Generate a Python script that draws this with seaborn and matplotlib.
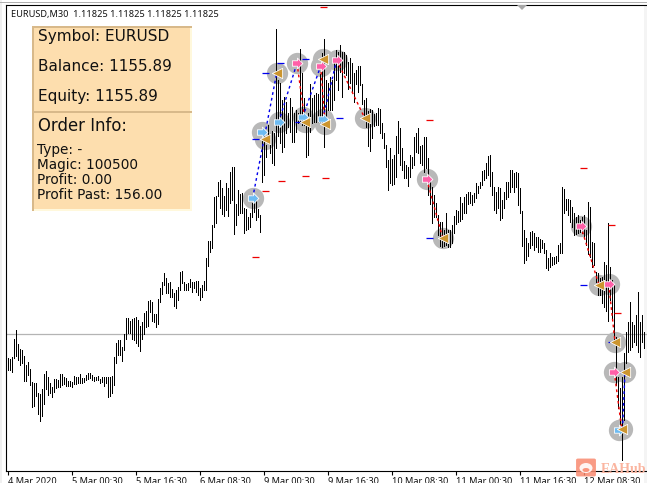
import numpy as np
import pandas as pd
import matplotlib
matplotlib.use('Agg')
import matplotlib.pyplot as plt
from matplotlib.patches import Rectangle, FancyBboxPatch, Ellipse, Polygon
from matplotlib.path import Path
import seaborn as sns

W, H = 647, 483

# bar highs / lows (height above the window bottom)
highs = [
    125, 124, 126, 144, 153, 139, 134, 133, 127, 118, 121, 114, 101, 100, 100, 90, 89, 94, 109, 112,
    106, 100, 96, 104, 104, 103, 109, 109, 106, 105, 102, 102, 101, 107, 106, 106, 109, 105, 105, 108,
    110, 110, 108, 106, 106, 107, 104, 106, 106, 106, 106, 106, 107, 126, 140, 143, 143, 136, 149, 165,
    165, 162, 164, 165, 166, 163, 157, 161, 170, 172, 182, 183, 181, 169, 169, 184, 195, 201, 210, 205,
    200, 201, 194, 190, 193, 196, 211, 212, 201, 199, 200, 204, 201, 201, 202, 202, 195, 198, 202, 225,
    242, 242, 258, 286, 287, 301, 303, 295, 287, 300, 295, 311, 316, 316, 279, 293, 289, 290, 275, 274,
    266, 270, 280, 282, 283, 274, 268, 355, 348, 338, 358, 348, 352, 350, 454, 403, 400, 383, 386, 381,
    370, 385, 376, 370, 373, 370, 434, 410, 385, 361, 370, 399, 385, 388, 390, 389, 409, 430, 444, 403,
    400, 406, 403, 423, 433, 431, 438, 431, 431, 428, 421, 425, 420, 410, 413, 417, 417, 399, 383, 385,
    372, 374, 373, 369, 370, 375, 374, 360, 350, 338, 323, 335, 324, 328, 347, 362, 355, 335, 322, 318,
    316, 328, 326, 346, 350, 355, 337, 338, 346, 346, 325, 305, 296, 288, 280, 268, 261, 261, 253, 270,
    253, 253, 258, 267, 273, 272, 286, 280, 286, 289, 291, 291, 288, 290, 300, 297, 301, 312, 313, 320,
    327, 328, 311, 296, 291, 296, 295, 283, 291, 301, 301, 313, 313, 310, 311, 310, 295, 272, 253, 245,
    240, 251, 252, 250, 246, 246, 244, 243, 240, 233, 225, 230, 226, 226, 227, 238, 240, 296, 294, 284,
    284, 283, 276, 270, 266, 268, 263, 266, 268, 253, 281, 276, 241, 240, 211, 210, 205, 206, 221, 218,
    260, 216, 203, 198, 146, 106, 95, 106, 130, 151, 161, 181, 161, 158, 168, 191, 161, 168, 151,
]
lows = [
    113, 113, 111, 125, 127, 123, 118, 120, 102, 102, 108, 98, 76, 77, 87, 69, 62, 67, 79, 94,
    88, 90, 86, 91, 95, 96, 96, 98, 99, 97, 97, 97, 96, 99, 99, 100, 100, 100, 101, 103,
    104, 105, 103, 102, 103, 103, 100, 101, 97, 100, 86, 87, 90, 98, 120, 128, 128, 122, 133, 144,
    150, 150, 144, 143, 140, 137, 132, 144, 149, 156, 157, 171, 162, 161, 156, 159, 181, 189, 198, 190,
    190, 186, 186, 177, 175, 183, 193, 200, 193, 193, 193, 196, 191, 195, 191, 188, 183, 186, 193, 193,
    217, 231, 235, 256, 260, 287, 275, 269, 267, 273, 267, 280, 283, 249, 258, 268, 270, 270, 250, 253,
    254, 256, 266, 271, 263, 266, 251, 301, 308, 326, 341, 330, 320, 318, 335, 347, 340, 331, 336, 350,
    356, 351, 341, 341, 351, 360, 361, 358, 358, 326, 328, 351, 360, 361, 361, 361, 361, 358, 336, 366,
    373, 373, 373, 383, 403, 393, 411, 386, 410, 408, 394, 400, 391, 381, 399, 391, 398, 379, 363, 356,
    337, 332, 345, 357, 358, 358, 350, 345, 335, 316, 293, 300, 298, 299, 306, 330, 318, 313, 305, 305,
    297, 306, 315, 318, 331, 330, 320, 318, 311, 315, 288, 279, 260, 266, 266, 248, 237, 236, 237, 238,
    236, 236, 240, 250, 259, 261, 262, 264, 270, 270, 279, 280, 278, 281, 285, 290, 295, 298, 303, 305,
    308, 297, 288, 273, 270, 275, 263, 265, 275, 284, 286, 291, 296, 291, 296, 278, 270, 237, 220, 223,
    227, 235, 238, 233, 236, 231, 231, 235, 230, 215, 213, 216, 218, 219, 220, 222, 230, 230, 270, 273,
    268, 261, 256, 248, 249, 250, 251, 250, 245, 238, 229, 226, 216, 218, 201, 188, 188, 180, 176, 172,
    162, 183, 163, 143, 98, 75, 53, 23, 63, 120, 131, 133, 136, 141, 138, 131, 126, 141, 135,
]

tick_labels = ['4 Mar 2020', '5 Mar 00:30', '5 Mar 16:30', '6 Mar 08:30', '9 Mar 00:30',
               '9 Mar 16:30', '10 Mar 08:30', '11 Mar 00:30', '11 Mar 16:30', '12 Mar 08:30']
tick_bars = [0, 32, 64, 96, 128, 160, 192, 224, 256, 288]
bid_level = 149

# trade marks: bar position and level
open_bars = [122.6, 127.4, 135.6, 147.6, 157.6, 305.9]
open_levels = [285, 351, 361, 366, 364, 53]
exit_bars = [134.6, 128.75, 148.75, 158.75, 157.9, 178.6, 217.6, 295.75, 303.75, 308.75, 307.1]
exit_levels = [410, 344, 361, 359, 424, 365, 245, 198, 141, 111, 54]
close_bars = [144.75, 156.6, 164.6, 209.6, 286.6, 300.6, 303.4]
close_levels = [420, 417, 423, 304, 257, 199, 111]

# dashed trade lines (from, to)
blue_from = [(122.6, 285), (135.6, 361), (147.6, 366), (157.6, 364), (307.5, 54)]
blue_to = [(134.6, 410), (144.75, 420), (156.6, 417), (164.6, 423), (308.75, 111)]
red_from = [(144.75, 420), (156.6, 417), (164.6, 423), (209.6, 304), (286.6, 257), (300.6, 199), (303.4, 111)]
red_to = [(148.75, 361), (158.75, 359), (178.6, 365), (217.6, 245), (295.75, 198), (303.75, 141), (307.1, 54)]

# short stop / target levels
red_stop_bars = [156.25, 127.25, 135.25, 147.25, 157.25, 209.25, 122.25, 286.25, 300.25, 303.25]
red_stop_levels = [476, 292, 302, 307, 305, 363, 226, 315, 258, 170]
blue_stop_bars = [127.25, 134.75, 147.25, 156.75, 122.25, 143.75, 164.25, 209.25, 286.25, 300.25, 305.25]
blue_stop_levels = [410, 420, 424, 422, 344, 361, 365, 245, 198, 141, 111]

panel_lines = ['Symbol: EURUSD', 'Balance: 1155.89', 'Equity: 1155.89']
order_lines = ['Type: -', 'Magic: 100500', 'Profit: 0.00', 'Profit Past: 156.00']

sns.set_style('white')
plt.rcParams['font.family'] = ['DejaVu Sans']

fig = plt.figure(figsize=(W / 100, H / 100), dpi=100)
ax = fig.add_axes([6 / W, (H - 471) / H, (W - 6) / W, (471 - 5) / H])


def fx(px):
    return px / W


def fy(py):
    return 1 - py / H


def frect(x0, y0, x1, y1, color, z=5):
    fig.add_artist(Rectangle((fx(x0), fy(y1)), (x1 - x0) / W, (y1 - y0) / H, transform=fig.transFigure,
                             facecolor=color, edgecolor='none', zorder=z))


ax.set_xlim(-0.75, 319.75)
ax.set_ylim(12, 478)

# chart furniture outside the axes
frect(0, 0, 2, H, '#F0F0F0', 0)
frect(644, 5, W, H, '#F4F4F4', 0)
frect(0, 2, W, 3, '#B0B0B0', 0)
ax.patch.set_alpha(0)
ax.axhline(bid_level, color='#B4B4B4', lw=0.9, zorder=1)

# gray halos under the bars
halo_df = pd.DataFrame({'bar': open_bars + exit_bars + close_bars,
                        'level': open_levels + exit_levels + close_levels})
sns.scatterplot(data=halo_df, x='bar', y='level', s=235, color='#B8B8B8', linewidth=0, ax=ax,
                zorder=2, legend=False)

bars_df = pd.DataFrame({'bar': np.arange(len(highs)), 'high': highs, 'low': lows})
bars_long = bars_df.melt(id_vars='bar', value_vars=['low', 'high'], value_name='level')
sns.lineplot(data=bars_long, x='bar', y='level', units='bar', estimator=None, color='black',
             linewidth=0.72, antialiased=False, solid_capstyle='butt', ax=ax, zorder=3, legend=False)


def trade_lines(starts, ends, color):
    rows = []
    for n, (a, b) in enumerate(zip(starts, ends)):
        rows.append({'trade': n, 'bar': a[0], 'level': a[1]})
        rows.append({'trade': n, 'bar': b[0], 'level': b[1]})
    sns.lineplot(data=pd.DataFrame(rows), x='bar', y='level', units='trade', estimator=None, sort=False,
                 color=color, linewidth=1.0, linestyle=(0, (2, 2.2)), ax=ax, zorder=4, legend=False)


trade_lines(blue_from, blue_to, '#0000EE')
trade_lines(red_from, red_to, '#EE0000')

ax.hlines(red_stop_levels, red_stop_bars, np.array(red_stop_bars) + 3.4, color='#EE0000', lw=0.9, zorder=4)
ax.hlines(blue_stop_levels, blue_stop_bars, np.array(blue_stop_bars) + 3.4, color='#0000EE', lw=0.9, zorder=4)

arrow = Path([(-0.9, -0.48), (0.0, -0.48), (0.0, -0.95), (0.95, 0), (0.0, 0.95), (0.0, 0.48), (-0.9, 0.48), (-0.9, -0.48)],
             closed=True)
sns.scatterplot(x=open_bars, y=open_levels, marker=arrow, s=60, color='#6DBBF2', edgecolor='white', linewidth=0.6,
                ax=ax, zorder=6, legend=False)
sns.scatterplot(x=close_bars, y=close_levels, marker=arrow, s=60, color='#FF5FA8', edgecolor='white', linewidth=0.6,
                ax=ax, zorder=6, legend=False)
sns.scatterplot(x=exit_bars, y=exit_levels, marker='<', s=55, color='#CC952F', edgecolor='white', linewidth=0.6,
                ax=ax, zorder=6, legend=False)

# axes
sns.despine(ax=ax, right=True, top=False)
for side in ['left', 'bottom', 'top']:
    ax.spines[side].set_color('black')
    ax.spines[side].set_linewidth(0.8)
ax.set_xlabel('')
ax.set_ylabel('')
ax.set_yticks([])
ax.set_xticks(tick_bars)
ax.set_xticklabels(tick_labels, ha='left', fontsize=6.6, color='#111111', family='Noto Sans')
ax.tick_params(axis='x', bottom=True, length=3, width=0.8, color='black', pad=1.6)

# quote line and small gray mark on top
fig.text(fx(11), fy(17.5), 'EURUSD,M30  1.11825 1.11825 1.11825 1.11825', fontsize=6.6, color='#111111',
         va='baseline', family='Noto Sans')
fig.add_artist(Polygon([(fx(517), fy(5)), (fx(527), fy(5)), (fx(522), fy(10))], transform=fig.transFigure,
                       facecolor='#A8A8A8', edgecolor='none', zorder=6))

# info panel
frect(32, 26, 192, 211, '#FFF8DC')
frect(32, 26, 190, 209, '#FDDEAE', 6)
frect(32, 26, 192, 28, '#D8B98A', 7)
frect(32, 26, 34, 211, '#D8B98A', 7)
frect(34, 111, 192, 113, '#D8B98A', 7)

for txt, base in zip(panel_lines, [41, 71, 101]):
    fig.text(fx(37.5), fy(base), txt, fontsize=10.95, color='#111111', va='baseline', zorder=8)
fig.text(fx(37.5), fy(131), 'Order Info:', fontsize=11.9, color='#111111', va='baseline', zorder=8)
for txt, base in zip(order_lines, [154, 169, 184, 199]):
    fig.text(fx(37), fy(base), txt, fontsize=9.8, color='#111111', va='baseline', zorder=8)

# watermark
fig.add_artist(FancyBboxPatch((fx(578), fy(475)), 16 / W, 15 / H, boxstyle='round,pad=0.003', transform=fig.transFigure,
                              facecolor='#F98A70', edgecolor='none', alpha=0.85, zorder=9))
fig.add_artist(Ellipse((fx(586), fy(468)), 13 / W, 10 / H, transform=fig.transFigure,
                       facecolor='white', edgecolor='none', alpha=0.9, zorder=10))
fig.add_artist(Ellipse((fx(586), fy(470)), 7 / W, 4 / H, transform=fig.transFigure,
                       facecolor='#F98A70', edgecolor='none', alpha=0.9, zorder=11))
fig.text(fx(601), fy(473), 'EAHub', fontsize=10, fontweight='bold', family='Liberation Serif', color='#FBB5A0',
         va='baseline', zorder=9)

fig.savefig('out.png', dpi=100)
